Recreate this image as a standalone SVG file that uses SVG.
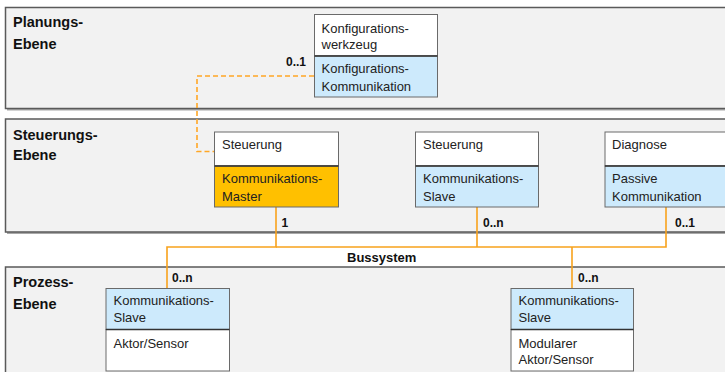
<svg xmlns="http://www.w3.org/2000/svg" width="725" height="372" viewBox="0 0 725 372">
  <style>
    .panel { fill: #f2f2f2; stroke: #5a5a5a; stroke-width: 1.5; }
    .shadow { fill: #a8a8a8; }
    .lvl { font-family: "Liberation Sans", Arial, sans-serif; font-size: 14.5px; font-weight: bold; fill: #111; }
    .t { font-family: "Liberation Sans", Arial, sans-serif; font-size: 13px; fill: #222; }
    .m { font-family: "Liberation Sans", Arial, sans-serif; font-size: 12px; font-weight: bold; fill: #111; }
    .box { stroke: #6a6a6a; stroke-width: 1; }
    .white { fill: #ffffff; }
    .blue { fill: #cdeafc; }
    .orange { fill: #ffc000; }
    .div { stroke: #333; stroke-width: 1.5; }
    .bus { fill: none; stroke: #f8a21c; stroke-width: 1.6; }
    .dash { fill: none; stroke: #ffa726; stroke-width: 1.6; stroke-dasharray: 5 3; }
  </style>

  <rect width="725" height="372" fill="#ffffff"/>

  <!-- level panels -->
  <g id="planungs-ebene">
    <rect class="shadow" x="7" y="9.5" width="730" height="101"/>
    <rect class="panel" x="5.5" y="7.5" width="730" height="101"/>
    <text class="lvl" x="13" y="27">Planungs-</text>
    <text class="lvl" x="13" y="48.5">Ebene</text>
  </g>
  <g id="steuerungs-ebene">
    <rect class="shadow" x="7" y="121" width="730" height="113"/>
    <rect class="panel" x="5.5" y="119" width="730" height="113"/>
    <text class="lvl" x="13" y="139.5">Steuerungs-</text>
    <text class="lvl" x="13" y="160">Ebene</text>
  </g>
  <g id="prozess-ebene">
    <rect class="shadow" x="7" y="269" width="730" height="120"/>
    <rect class="panel" x="5.5" y="267" width="730" height="120"/>
    <text class="lvl" x="13" y="287">Prozess-</text>
    <text class="lvl" x="13" y="309">Ebene</text>
  </g>

  <!-- connectors -->
  <g id="connectors">
    <polyline class="dash" points="314,76 197,76 197,151.5 214,151.5"/>
    <polyline class="bus" points="276,207 276,247 167,247 167,288"/>
    <polyline class="bus" points="276,247 666,247 666,207"/>
    <line class="bus" x1="477" y1="207" x2="477" y2="247"/>
    <line class="bus" x1="572" y1="247" x2="572" y2="288"/>
    <text class="m" x="286" y="65.5">0..1</text>
    <text class="m" x="281.5" y="226.5">1</text>
    <text class="m" x="483" y="226.5">0..n</text>
    <text class="m" x="675" y="226.5">0..1</text>
    <text class="m" x="172" y="282">0..n</text>
    <text class="m" x="578" y="282">0..n</text>
    <text class="lvl" x="347" y="262" style="font-size:13px">Bussystem</text>
  </g>

  <!-- nodes -->
  <g id="konfigurationswerkzeug">
    <rect class="box white" x="314.5" y="14.5" width="123" height="41.5"/>
    <rect class="box blue" x="314.5" y="56" width="123" height="41"/>
    <line class="div" x1="314.5" y1="56" x2="437.5" y2="56"/>
    <text class="t" x="321.5" y="33">Konfigurations-</text>
    <text class="t" x="321.5" y="48.5">werkzeug</text>
    <text class="t" x="321.5" y="73">Konfigurations-</text>
    <text class="t" x="321.5" y="90.5">Kommunikation</text>
  </g>

  <g id="steuerung-master">
    <rect class="box white" x="214.5" y="132" width="124" height="34"/>
    <rect class="box orange" x="214.5" y="166" width="124" height="41"/>
    <line class="div" x1="214.5" y1="166" x2="338.5" y2="166"/>
    <text class="t" x="222" y="149">Steuerung</text>
    <text class="t" x="222" y="183">Kommunikations-</text>
    <text class="t" x="222" y="200.5">Master</text>
  </g>

  <g id="steuerung-slave">
    <rect class="box white" x="415.5" y="132" width="123" height="34"/>
    <rect class="box blue" x="415.5" y="166" width="123" height="41"/>
    <line class="div" x1="415.5" y1="166" x2="538.5" y2="166"/>
    <text class="t" x="423" y="149">Steuerung</text>
    <text class="t" x="423" y="183">Kommunikations-</text>
    <text class="t" x="423" y="200.5">Slave</text>
  </g>

  <g id="diagnose">
    <rect class="box white" x="605" y="132" width="124" height="34"/>
    <rect class="box blue" x="605" y="166" width="124" height="41"/>
    <line class="div" x1="605" y1="166" x2="729" y2="166"/>
    <text class="t" x="612" y="149">Diagnose</text>
    <text class="t" x="612" y="183">Passive</text>
    <text class="t" x="612" y="200.5">Kommunikation</text>
  </g>

  <g id="aktor-sensor">
    <rect class="box blue" x="106" y="288.5" width="123.5" height="41"/>
    <rect class="box white" x="106" y="329.5" width="123.5" height="41.5"/>
    <line class="div" x1="106" y1="329.5" x2="229.5" y2="329.5"/>
    <text class="t" x="113.5" y="305">Kommunikations-</text>
    <text class="t" x="113.5" y="322">Slave</text>
    <text class="t" x="113.5" y="348">Aktor/Sensor</text>
  </g>

  <g id="modularer-aktor-sensor">
    <rect class="box blue" x="511" y="288.5" width="122.5" height="41"/>
    <rect class="box white" x="511" y="329.5" width="122.5" height="41.5"/>
    <line class="div" x1="511" y1="329.5" x2="633.5" y2="329.5"/>
    <text class="t" x="518.5" y="305">Kommunikations-</text>
    <text class="t" x="518.5" y="322">Slave</text>
    <text class="t" x="518.5" y="348">Modularer</text>
    <text class="t" x="518.5" y="363.5">Aktor/Sensor</text>
  </g>
</svg>
